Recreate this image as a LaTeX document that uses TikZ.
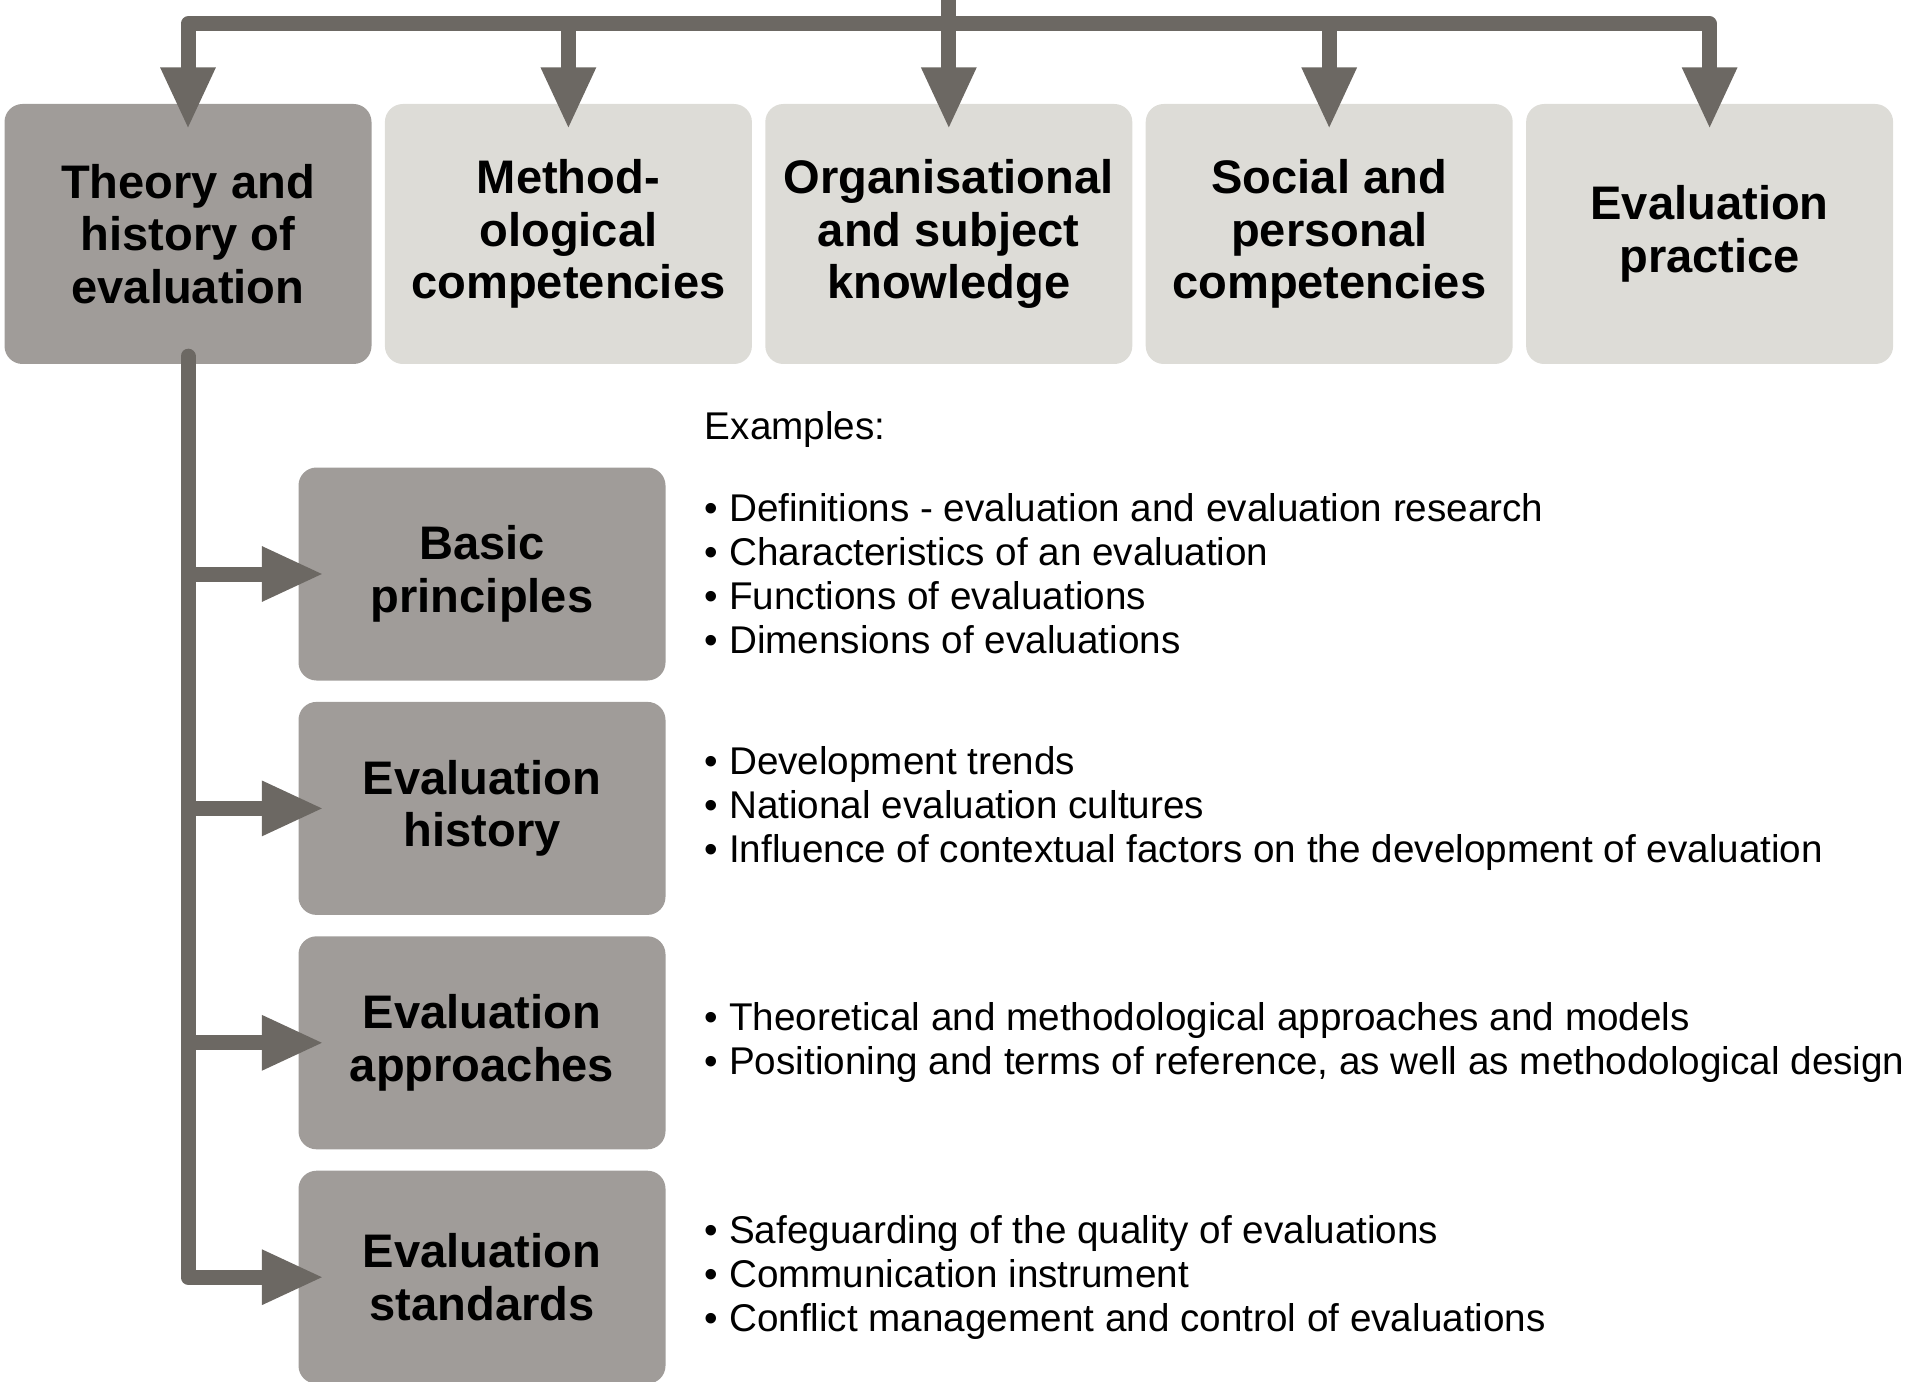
\documentclass[tikz,border=0pt]{standalone}
\usepackage{fontspec}
\setmainfont{Liberation Sans}
\usepackage{xcolor}
\usetikzlibrary{arrows.meta,calc,positioning}
\definecolor{boxdark}{RGB}{160,156,153}
\definecolor{boxlight}{RGB}{221,220,215}
\definecolor{linegrey}{RGB}{108,104,99}
\tikzset{
	box/.style={rounded corners=1.8mm, inner sep=0pt, minimum width=36.7mm, align=center, font=\fontsize{13.4}{14.9}\selectfont\bfseries},
	topbox/.style={box, fill=boxlight, minimum height=26mm},
	subbox/.style={box, fill=boxdark, minimum height=21.3mm},
	examples/.style={inner sep=0pt, align=left, font=\fontsize{11}{12.5}\selectfont},
	bar/.style={draw=linegrey, line width=1.5mm, line join=round},
	flow/.style={bar, -{Triangle[length=6.2mm,width=5.1mm]}, shorten >=-2.6mm}
}
\begin{document}
\begin{tikzpicture}[x=0.1mm,y=-0.1mm]
	\useasboundingbox (0,0) rectangle (1915,1382);
	\node[topbox, fill=boxdark] (theory) at (188,234) {Theory and\\history of\\evaluation};
	\node[topbox, right=1.2mm of theory] (method) {Method-\\ological\\competencies};
	\node[topbox, right=1.2mm of method] (organ) {Organisational\\and subject\\knowledge};
	\node[topbox, right=1.2mm of organ] (social) {Social and\\personal\\competencies};
	\node[topbox, right=1.2mm of social] (practice) {Evaluation\\practice};

	\node[subbox] (basic) at (482,574) {Basic\\principles};
	\node[subbox, below=2.0mm of basic] (hist) {Evaluation\\history};
	\node[subbox, below=2.0mm of hist] (appr) {Evaluation\\approaches};
	\node[subbox, below=2.0mm of appr] (stand) {Evaluation\\standards};

	\node[examples, right=3.8mm of basic] (exbasic) {\textbullet{} Definitions - evaluation and evaluation research\\\textbullet{} Characteristics of an evaluation\\\textbullet{} Functions of evaluations\\\textbullet{} Dimensions of evaluations};
	\node[examples, right=3.8mm of hist] (exhist) {\textbullet{} Development trends\\\textbullet{} National evaluation cultures\\\textbullet{} Influence of contextual factors on the development of evaluation};
	\node[examples, right=3.8mm of appr] (exappr) {\textbullet{} Theoretical and methodological approaches and models\\\textbullet{} Positioning and terms of reference, as well as methodological design};
	\node[examples, right=3.8mm of stand] (exstand) {\textbullet{} Safeguarding of the quality of evaluations\\\textbullet{} Communication instrument\\\textbullet{} Conflict management and control of evaluations};
	\node[examples, anchor=west] (exhead) at (exbasic.west |- 0,430) {Examples:};

	\coordinate (hub) at (organ.north |- 0,24);
	\draw[bar] (organ.north |- 0,-10) -- (hub);
	\foreach \n in {theory,method,organ,social,practice}
		\draw[flow] (hub) -| (\n.north);

	\draw[flow, line cap=round] ([yshift=0.85mm]theory.south) |- (stand.west);
	\foreach \n in {basic,hist,appr}
		\draw[flow] (theory.south |- \n.west) -- (\n.west);
\end{tikzpicture}
\end{document}
